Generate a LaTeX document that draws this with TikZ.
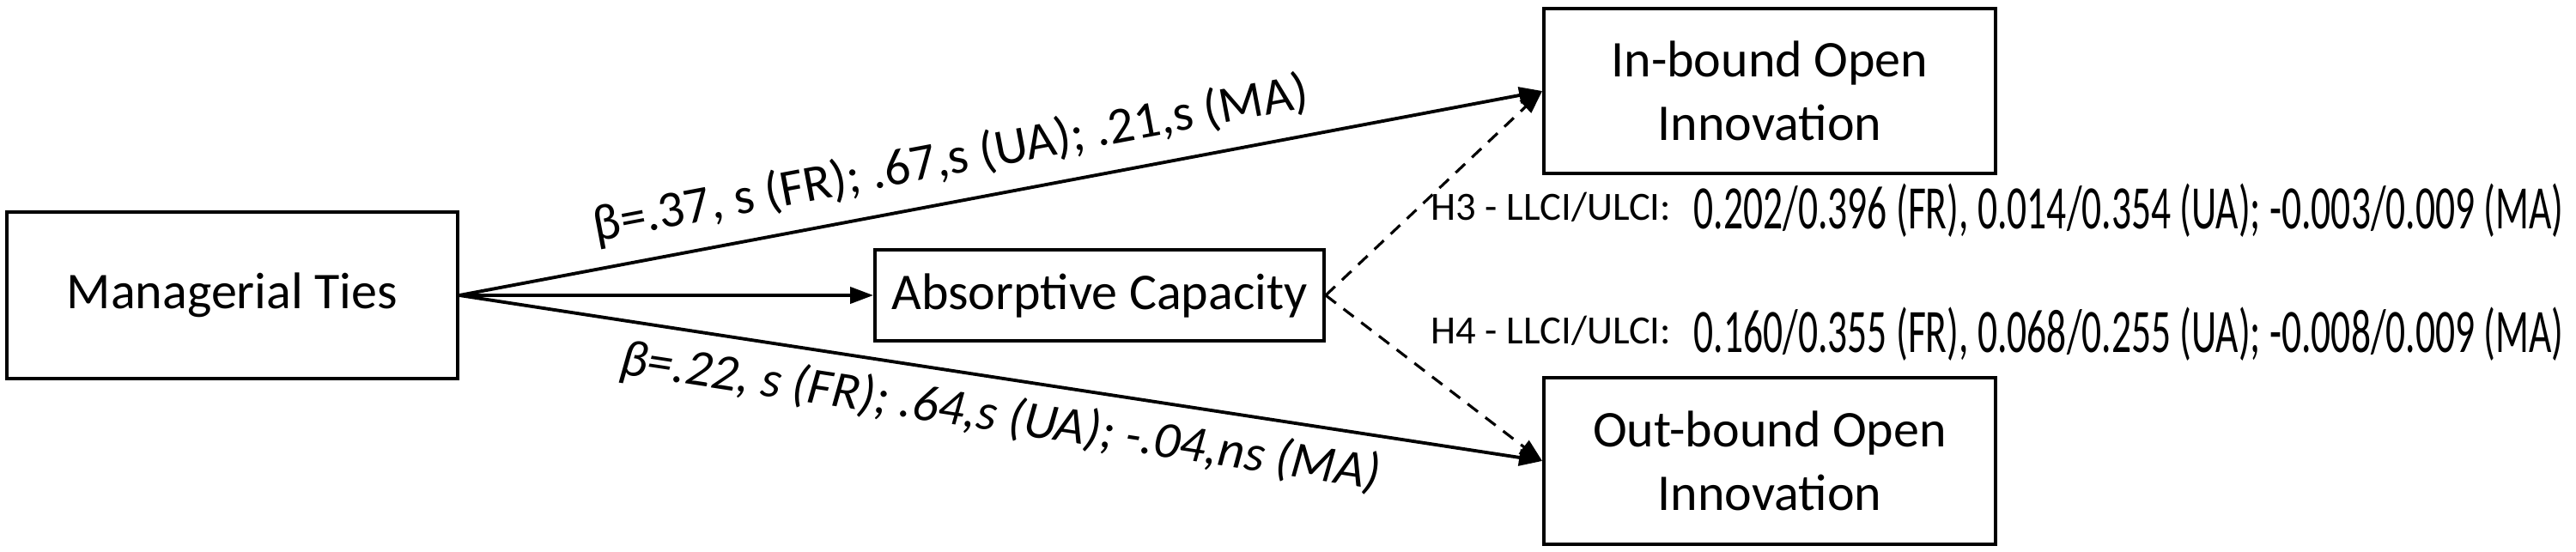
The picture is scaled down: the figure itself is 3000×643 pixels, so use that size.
\documentclass[tikz,border=0pt]{standalone}
\usepackage{fontspec}
\setmainfont{Carlito}
\usepackage{graphicx}
\usetikzlibrary{arrows.meta}
\begin{document}
\begin{tikzpicture}[x=0.01cm,y=-0.01cm,
  box/.style={draw, line width=1pt, inner sep=0pt, align=center,
    font=\fontsize{17.07pt}{21pt}\selectfont},
  conn/.style={line width=1.1pt, -{Triangle[length=0.27cm,width=0.19cm]}},
  dconn/.style={line width=0.9pt, dash pattern=on 0.15cm off 0.11cm, -{Triangle[length=0.27cm,width=0.19cm]}},
  lbl/.style={font=\fontsize{17.07pt}{21pt}\selectfont, inner sep=0pt, anchor=base, sloped},
  hlbl/.style={font=\fontsize{13.26pt}{16pt}\selectfont, inner sep=0pt, anchor=base west},
  nlbl/.style={font=\fontsize{12.95pt}{16pt}\selectfont, inner sep=0pt, anchor=base west},
]
\useasboundingbox (0,0) rectangle (3000,643);
\node[box, minimum width=5.25cm, minimum height=1.94cm] (mt) at (270.5,344) {Managerial Ties};
\node[box, minimum width=5.23cm, minimum height=1.06cm] (ac) at (1280.5,344) {Absorptive Capacity};
\node[box, minimum width=5.26cm, minimum height=1.92cm] (ib) at (2061,106) {In-bound Open\\Innovation};
\node[box, minimum width=5.26cm, minimum height=1.94cm] (ob) at (2061,537) {Out-bound Open\\Innovation};

\draw[conn] (mt.east) -- (ac.west);
\draw[conn] (mt.east) -- node[lbl, pos=0.461, yshift=0.32cm] {β=.37, s (FR); .67,s (UA); .21,s (MA)} (ib.west);
\draw[conn] (mt.east) -- node[lbl, pos=0.505, yshift=-0.62cm] {\itshape β=.22, s (FR); .64,s (UA); -.04,ns (MA)} (ob.west);

\draw[dconn] (ac.east) -- (ib.west);
\draw[dconn] (ac.east) -- (ob.west);

\node[hlbl] (h3) at (1666,257) {H3 - LLCI/ULCI:};
\node[nlbl] (h3v) at (1972,267) {\scalebox{1}[1.58]{0.202/0.396 (FR), 0.014/0.354 (UA); -0.003/0.009 (MA)}};
\node[hlbl] (h4) at (1666,400) {H4 - LLCI/ULCI:};
\node[nlbl] (h4v) at (1972,410) {\scalebox{1}[1.58]{0.160/0.355 (FR), 0.068/0.255 (UA); -0.008/0.009 (MA)}};
\end{tikzpicture}
\end{document}
